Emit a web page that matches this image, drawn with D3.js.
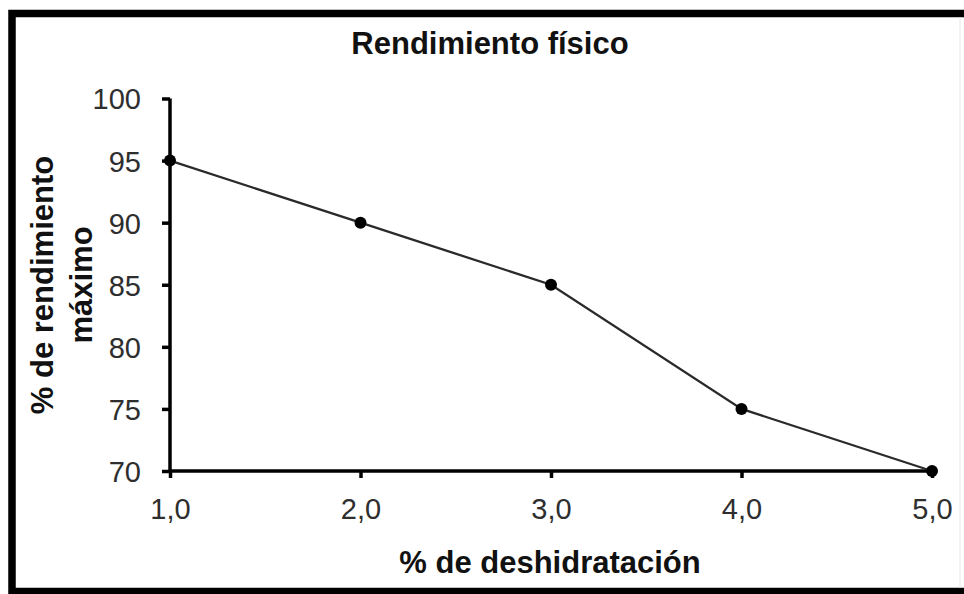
<!DOCTYPE html>
<html><head><meta charset="utf-8">
<script src="https://cdn.jsdelivr.net/npm/d3@7"></script>
<style>html,body{margin:0;padding:0;background:#fff;}svg{display:block;}</style>
</head><body>
<script>
const xValues = [1, 2, 3, 4, 5];
const yValues = [95, 90, 85, 75, 70];
const xTicks = [1, 2, 3, 4, 5];
const yTicks = [70, 75, 80, 85, 90, 95, 100];
const title = "Rendimiento físico";
const xLabel = "% de deshidratación";
const yLabelLines = ["% de rendimiento", "máximo"];

const W = 964, H = 594;
const svg = d3.select("body").append("svg").attr("width", W).attr("height", H);
svg.append("rect").attr("width", W).attr("height", H).attr("fill", "#fff");

// frame
svg.append("rect").attr("x", 12).attr("y", 13.5).attr("width", 960).attr("height", 578)
  .attr("fill", "none").attr("stroke", "#000").attr("stroke-width", 7.5);
svg.append("line").attr("x1", 960).attr("x2", 960).attr("y1", 17).attr("y2", 588)
  .attr("stroke", "#e6e6e6").attr("stroke-width", 1);

const x = d3.scaleLinear().domain([1, 5]).range([170, 932]);
const y = d3.scaleLinear().domain([70, 100]).range([471, 98.5]);
const font = "'Liberation Sans', Arial, sans-serif";

const xAxis = svg.append("g").attr("transform", `translate(0,${y(70)})`)
  .call(d3.axisBottom(x).tickValues(xTicks).tickSize(7).tickPadding(20)
    .tickFormat(d => d3.format(".1f")(d).replace(".", ",")));
const yAxis = svg.append("g").attr("transform", `translate(${x(1)},0)`)
  .call(d3.axisLeft(y).tickValues(yTicks).tickSize(8).tickPadding(21));
[xAxis, yAxis].forEach(g => {
  g.select(".domain").attr("stroke", "#000").attr("stroke-width", 3.5);
  g.selectAll(".tick line").attr("stroke", "#000").attr("stroke-width", 3.5);
  g.selectAll(".tick text").attr("fill", "#2e2e2e").style("font-family", font).style("font-size", "29px");
});
xAxis.select(".domain").attr("d", `M${x(1)},0H${x(5)}`);
yAxis.select(".domain").attr("d", `M0,${y(100)}V${y(70)}`);
xAxis.selectAll(".tick text").attr("dy", "0.71em");
yAxis.selectAll(".tick text").attr("dy", "0.36em");

// line
const data = xValues.map((v, i) => ({x: v, y: yValues[i]}));
svg.append("path").datum(data)
  .attr("d", d3.line().x(d => x(d.x)).y(d => y(d.y)))
  .attr("fill", "none").attr("stroke", "#2a2a2a").attr("stroke-width", 2.3);
svg.selectAll("circle.pt").data(data).enter().append("circle")
  .attr("class", "pt").attr("cx", d => x(d.x)).attr("cy", d => y(d.y)).attr("r", 6)
  .attr("fill", "#000");

// title
svg.append("text").attr("x", 490).attr("y", 54).attr("text-anchor", "middle")
  .style("font-family", font).style("font-size", "31px").style("font-weight", "bold")
  .attr("fill", "#111").text(title);
// x label
svg.append("text").attr("x", 550).attr("y", 573).attr("text-anchor", "middle")
  .style("font-family", font).style("font-size", "31px").style("font-weight", "bold")
  .attr("fill", "#111").text(xLabel);
// y label
const yl = svg.append("text").attr("transform", "translate(53,285) rotate(-90)")
  .attr("text-anchor", "middle")
  .style("font-family", font).style("font-size", "31px").style("font-weight", "bold")
  .attr("fill", "#111");
yLabelLines.forEach((t, i) => {
  yl.append("tspan").attr("x", 0).attr("y", i * 39).text(t);
});
</script>
</body></html>
